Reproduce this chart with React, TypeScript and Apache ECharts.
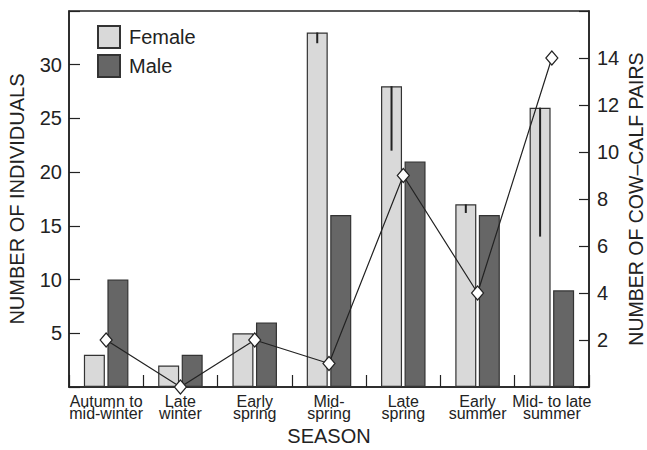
import React, { useEffect, useRef } from "react";
import * as echarts from "echarts";

const seasons = [
  "Autumn to\nmid-winter",
  "Late\nwinter",
  "Early\nspring",
  "Mid-\nspring",
  "Late\nspring",
  "Early\nsummer",
  "Mid- to late\nsummer",
];
const female = [3, 2, 5, 33, 28, 17, 26];
const male = [10, 3, 6, 16, 21, 16, 9];
const femaleErrLow = [null, null, null, 32, 22, 16.2, 14];
const cowCalfPairs = [2, 0, 2, 1, 9, 4, 14];

const FONT = "Liberation Sans, Arial, Helvetica, sans-serif";
const INK = "#222";
const BAR_W = 21;
const BAR_GAP = 0.12;

export default function App() {
  const ref = useRef<HTMLDivElement>(null);
  useEffect(() => {
    const chart = echarts.init(ref.current!, null, { renderer: "svg" });
    const errData = femaleErrLow
      .map((low, i) => (low == null ? null : [i, female[i], low]))
      .filter((d) => d !== null);
    const offset = -(BAR_W + BAR_W * BAR_GAP) / 2;
    chart.setOption({
      animation: false,
      textStyle: { fontFamily: FONT, color: INK },
      grid: {
        left: 69,
        right: 58,
        top: 11,
        bottom: 63,
        outerBoundsMode: "none",
        containLabel: false,
        show: true,
        borderColor: INK,
        borderWidth: 1.5,
        backgroundColor: "transparent",
      },
      legend: {
        orient: "vertical",
        left: 97,
        top: 25,
        padding: 0,
        itemWidth: 22,
        itemHeight: 22,
        itemGap: 5,
        icon: "rect",
        data: ["Female", "Male"],
        textStyle: { fontSize: 20, color: INK, fontFamily: FONT, padding: [0, 0, 0, 4] },
      },
      xAxis: {
        type: "category",
        data: seasons,
        name: "SEASON",
        nameLocation: "middle",
        nameGap: 39,
        nameTextStyle: { fontSize: 20, color: INK, fontFamily: FONT },
        axisLine: { show: true, lineStyle: { color: INK, width: 1.5 } },
        axisTick: { show: true, inside: true, length: 12, lineStyle: { color: INK, width: 1.2 } },
        axisLabel: {
          interval: 0,
          fontSize: 16,
          lineHeight: 12,
          margin: 8,
          color: INK,
          fontFamily: FONT,
        },
        splitLine: { show: false },
      },
      yAxis: [
        {
          type: "value",
          min: 0,
          max: 35,
          interval: 5,
          position: "left",
          name: "NUMBER OF INDIVIDUALS",
          nameLocation: "middle",
          nameRotate: 90,
          nameGap: 42,
          nameTextStyle: { fontSize: 20, color: INK, fontFamily: FONT },
          axisLine: { show: true, lineStyle: { color: INK, width: 1.5 } },
          axisTick: { show: true, inside: true, length: 11, lineStyle: { color: INK, width: 1.2 } },
          axisLabel: {
            fontSize: 20,
            color: INK,
            margin: 7,
            fontFamily: FONT,
            formatter: (v: number) => (v === 0 || v === 35 ? "" : String(v)),
          },
          splitLine: { show: false },
        },
        {
          type: "value",
          min: 0,
          max: 16,
          interval: 2,
          position: "right",
          name: "NUMBER OF COW\u2013CALF PAIRS",
          nameLocation: "middle",
          nameRotate: 90,
          nameGap: 37,
          nameMoveOverlap: false,
          nameTextStyle: { fontSize: 19.5, color: INK, fontFamily: FONT },
          axisLine: { show: true, lineStyle: { color: INK, width: 1.5 } },
          axisTick: { show: true, inside: true, length: 10, lineStyle: { color: INK, width: 1.2 } },
          axisLabel: {
            fontSize: 20,
            color: INK,
            margin: 8,
            fontFamily: FONT,
            formatter: (v: number) => (v === 0 || v === 16 ? "" : String(v)),
          },
          splitLine: { show: false },
        },
      ],
      series: [
        {
          name: "Female",
          type: "bar",
          data: female,
          barWidth: BAR_W,
          barGap: `${BAR_GAP * 100}%`,
          itemStyle: { color: "#d9d9d9", borderColor: "#333", borderWidth: 1.2 },
          z: 2,
        },
        {
          name: "Male",
          type: "bar",
          data: male,
          barWidth: BAR_W,
          barGap: `${BAR_GAP * 100}%`,
          itemStyle: { color: "#666666", borderColor: "#333", borderWidth: 1.2 },
          z: 2,
        },
        {
          name: "err",
          type: "custom",
          yAxisIndex: 0,
          data: errData,
          encode: { x: 0, y: [1, 2] },
          z: 3,
          renderItem: (params: any, api: any) => {
            const i = api.value(0);
            const hi = api.coord([i, api.value(1)]);
            const lo = api.coord([i, api.value(2)]);
            return {
              type: "line",
              shape: { x1: hi[0] + offset, y1: hi[1], x2: lo[0] + offset, y2: lo[1] },
              style: { stroke: INK, lineWidth: 2 },
            };
          },
        },
        {
          name: "Pairs",
          type: "line",
          yAxisIndex: 1,
          data: cowCalfPairs,
          symbol: "diamond",
          symbolSize: [12, 14],
          lineStyle: { color: INK, width: 1.2 },
          itemStyle: { color: "#fff", borderColor: INK, borderWidth: 1.2 },
          z: 5,
        },
      ],
    });
    return () => chart.dispose();
  }, []);
  return (
    <div
      ref={ref}
      style={{ position: "fixed", left: 0, top: 0, width: 647, height: 450, background: "#fff" }}
    />
  );
}
